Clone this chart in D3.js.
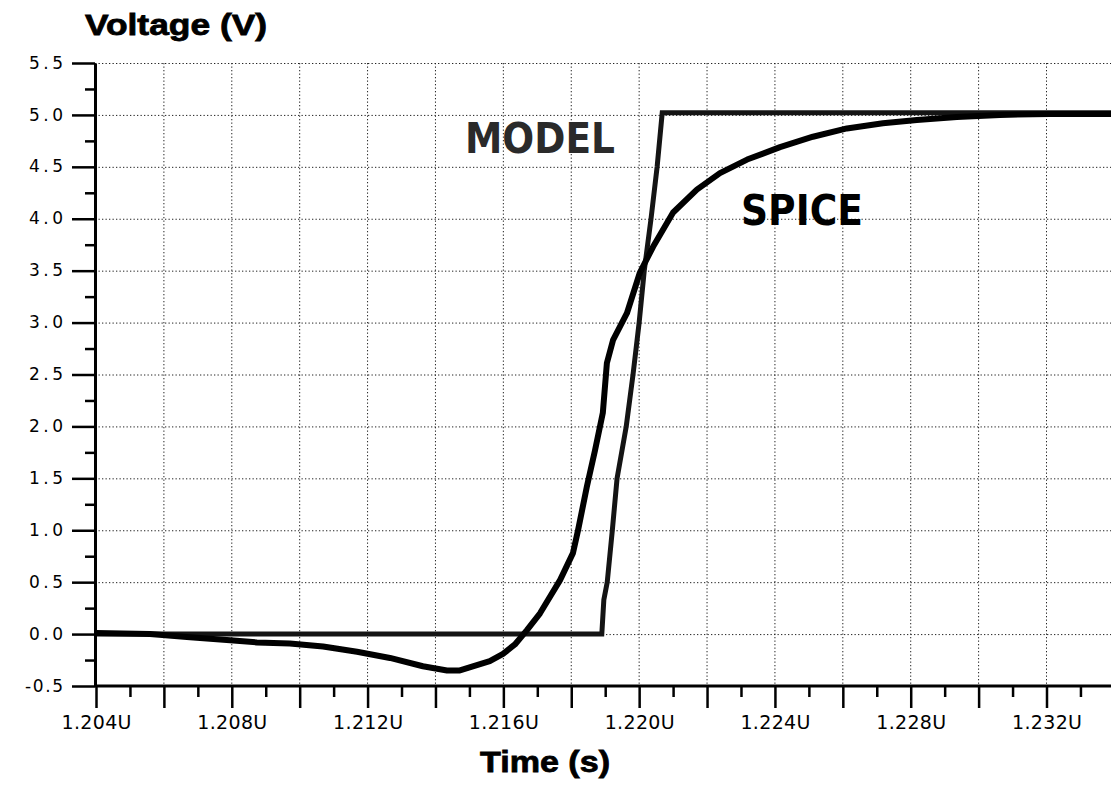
<!DOCTYPE html>
<html>
<head>
<meta charset="utf-8">
<script src="https://cdn.jsdelivr.net/npm/d3@7"></script>
<style>
  html, body { margin: 0; padding: 0; background: #fff; }
  svg { display: block; }
</style>
</head>
<body>
<svg id="chart" width="1119" height="788"></svg>
<script>
// ---- data (time in microseconds, voltage in volts) ----
const modelTime = [1.2040, 1.2189, 1.21896, 1.21906, 1.21921, 1.21935, 1.21962, 1.21982, 1.2200, 1.22015, 1.22035, 1.22053, 1.22068, 1.2339];
const modelVolt = [0.0, 0.0, 0.33, 0.5, 1.0, 1.5, 2.0, 2.5, 3.0, 3.5, 4.0, 4.5, 5.02, 5.02];

const spiceTime = [1.2040, 1.20559, 1.20677, 1.20795, 1.20874, 1.20971, 1.21069, 1.21169, 1.21266, 1.21363,
                   1.21434, 1.21472, 1.2151, 1.2156, 1.21599, 1.21634, 1.2167, 1.21708, 1.21767, 1.21805,
                   1.2182, 1.21846, 1.2187, 1.21893, 1.21905, 1.21923, 1.21964, 1.22002, 1.22041, 1.2210,
                   1.2217, 1.22238, 1.22318, 1.22415, 1.22512, 1.22612, 1.22718, 1.22818, 1.22936, 1.23063,
                   1.2321, 1.2339];
const spiceVolt = [0.01, 0.0, -0.03, -0.06, -0.08, -0.09, -0.12, -0.17, -0.23, -0.31,
                   -0.35, -0.35, -0.31, -0.26, -0.19, -0.10, 0.04, 0.2, 0.52, 0.78,
                   1.0, 1.42, 1.77, 2.13, 2.61, 2.83, 3.09, 3.48, 3.73, 4.06,
                   4.28, 4.44, 4.57, 4.69, 4.79, 4.87, 4.92, 4.95, 4.98, 5.0,
                   5.01, 5.01];

const yTicks = [-0.5, 0.0, 0.5, 1.0, 1.5, 2.0, 2.5, 3.0, 3.5, 4.0, 4.5, 5.0, 5.5];
const yTickLabels = ["-0.5", "0.0", "0.5", "1.0", "1.5", "2.0", "2.5", "3.0", "3.5", "4.0", "4.5", "5.0", "5.5"];
const yMinorTicks = [-0.25, 0.25, 0.75, 1.25, 1.75, 2.25, 2.75, 3.25, 3.75, 4.25, 4.75, 5.25];

const xMajorTicks = [1.204, 1.206, 1.208, 1.210, 1.212, 1.214, 1.216, 1.218, 1.220, 1.222, 1.224, 1.226, 1.228, 1.230, 1.232];
const xLabelTicks = [1.204, 1.208, 1.212, 1.216, 1.220, 1.224, 1.228, 1.232];
const xTickLabels = ["1.204U", "1.208U", "1.212U", "1.216U", "1.220U", "1.224U", "1.228U", "1.232U"];
const xMinorTicks = [1.205, 1.207, 1.209, 1.211, 1.213, 1.215, 1.217, 1.219, 1.221, 1.223, 1.225, 1.227, 1.229, 1.231, 1.233];

const seriesLabels = ["MODEL", "SPICE"];
const yTitle = "Voltage (V)";
const xTitle = "Time (s)";

// ---- layout ----
const svg = d3.select("#chart");
const x = d3.scaleLinear().domain([1.204, 1.2339]).range([96, 1111]);
const y = d3.scaleLinear().domain([-0.5, 5.5]).range([686, 63]);
const axisX = 95;

// grid
const grid = svg.append("g").attr("class", "grid")
  .attr("stroke", "#222").attr("stroke-width", 1).attr("stroke-dasharray", "1.3,2.2");
grid.selectAll("line.v").data(xMajorTicks.slice(1)).join("line")
  .attr("x1", d => x(d)).attr("x2", d => x(d))
  .attr("y1", y(5.5)).attr("y2", y(-0.5));
grid.selectAll("line.h").data(yTicks.slice(1)).join("line")
  .attr("x1", axisX).attr("x2", x.range()[1])
  .attr("y1", d => y(d) + 0.5).attr("y2", d => y(d) + 0.5);

// curves
const lineGen = d3.line().x(d => x(d[0])).y(d => y(d[1]));
const modelPts = modelTime.map((t, i) => [t, modelVolt[i]]);
const spicePts = spiceTime.map((t, i) => [t, spiceVolt[i]]);

svg.append("path").datum(modelPts)
  .attr("d", lineGen).attr("fill", "none")
  .attr("stroke", "#141414").attr("stroke-width", 5).attr("stroke-linejoin", "miter");
svg.append("path").datum(spicePts)
  .attr("d", lineGen).attr("fill", "none")
  .attr("stroke", "#000").attr("stroke-width", 6).attr("stroke-linejoin", "round");

// y axis (major + minor)
const yAxis = d3.axisLeft(y).tickValues(yTicks).tickSize(23).tickSizeOuter(0).tickPadding(9)
  .tickFormat((d, i) => yTickLabels[i]);
const gy = svg.append("g").attr("transform", `translate(${axisX},0)`).call(yAxis);
gy.attr("font-size", 17).attr("font-family", "DejaVu Sans");
gy.select(".domain").attr("stroke-width", 3);
gy.selectAll(".tick line").attr("stroke-width", 2.5);
gy.selectAll(".tick text").attr("fill", "#000").attr("dy", "0.3em")
  .attr("textLength", (d, i) => yTickLabels[i].length > 3 ? 38 : 34)
  .attr("lengthAdjust", "spacing");

const gyMinor = svg.append("g").attr("transform", `translate(${axisX},0)`)
  .call(d3.axisLeft(y).tickValues(yMinorTicks).tickSize(10).tickSizeOuter(0).tickFormat(""));
gyMinor.select(".domain").remove();
gyMinor.selectAll(".tick line").attr("stroke-width", 2.5);

// x axis (major + minor)
const xAxis = d3.axisBottom(x).tickValues(xMajorTicks).tickSize(22).tickSizeOuter(0).tickPadding(8)
  .tickFormat(d => { const k = xLabelTicks.findIndex(v => Math.abs(v - d) < 1e-9); return k >= 0 ? xTickLabels[k] : ""; });
const gx = svg.append("g").attr("transform", `translate(0,${y(-0.5)})`).call(xAxis);
gx.attr("font-size", 19).attr("font-family", "DejaVu Sans");
gx.select(".domain").attr("stroke-width", 3).attr("d", `M${axisX},0H${x.range()[1]}`);
gx.selectAll(".tick line").attr("stroke-width", 2.5);
gx.selectAll(".tick text").filter(function () { return this.textContent.length > 0; })
  .attr("fill", "#000").attr("textLength", 70).attr("lengthAdjust", "spacing");

const gxMinor = svg.append("g").attr("transform", `translate(0,${y(-0.5)})`)
  .call(d3.axisBottom(x).tickValues(xMinorTicks).tickSize(11).tickSizeOuter(0).tickFormat(""));
gxMinor.select(".domain").remove();
gxMinor.selectAll(".tick line").attr("stroke-width", 2.5);

// titles
svg.append("text").attr("x", 85).attr("y", 35)
  .attr("font-family", "Liberation Sans, Arial, sans-serif").attr("font-weight", "bold")
  .attr("font-size", 30).attr("textLength", 182).attr("lengthAdjust", "spacingAndGlyphs")
  .attr("stroke", "#000").attr("stroke-width", 0.8)
  .text(yTitle);
svg.append("text").attr("x", 480).attr("y", 772)
  .attr("font-family", "Liberation Sans, Arial, sans-serif").attr("font-weight", "bold")
  .attr("font-size", 30).attr("textLength", 130).attr("lengthAdjust", "spacingAndGlyphs")
  .attr("stroke", "#000").attr("stroke-width", 0.8)
  .text(xTitle);

// series labels
svg.append("text").attr("x", 465).attr("y", 153)
  .attr("font-family", "DejaVu Sans").attr("font-weight", "bold").attr("fill", "#2a2a2a")
  .attr("font-size", 42).attr("textLength", 150).attr("lengthAdjust", "spacingAndGlyphs")
  .text(seriesLabels[0]);
svg.append("text").attr("x", 741).attr("y", 225)
  .attr("font-family", "DejaVu Sans").attr("font-weight", "bold").attr("fill", "#000")
  .attr("font-size", 42).attr("textLength", 122).attr("lengthAdjust", "spacingAndGlyphs")
  .text(seriesLabels[1]);
</script>
</body>
</html>
